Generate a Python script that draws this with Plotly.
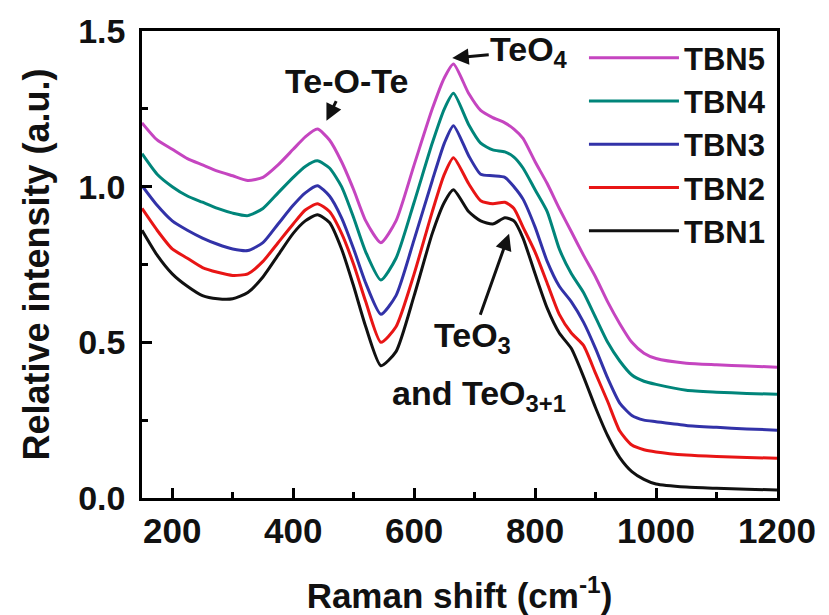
import plotly.graph_objects as go

raman_shift = [150, 175, 200, 225, 250, 275, 300, 325, 350, 375, 400, 420, 440, 460, 480, 500,
               520, 545, 570, 600, 630, 650, 665, 690, 710, 730, 750, 765, 780, 800, 820, 840,
               860, 880, 900, 920, 940, 960, 980, 1000, 1050, 1100, 1150, 1200]

tbn1 = [0.86, 0.78, 0.72, 0.68, 0.65, 0.64, 0.64, 0.66, 0.71, 0.78, 0.85, 0.89, 0.91, 0.885, 0.80, 0.68,
        0.55, 0.425, 0.47, 0.65, 0.85, 0.95, 0.99, 0.92, 0.89, 0.88, 0.90, 0.89, 0.835, 0.72, 0.61, 0.53,
        0.48, 0.39, 0.29, 0.20, 0.13, 0.085, 0.06, 0.045, 0.035, 0.031, 0.028, 0.026]
tbn2 = [0.93, 0.86, 0.80, 0.77, 0.74, 0.725, 0.715, 0.72, 0.76, 0.82, 0.88, 0.925, 0.945, 0.92, 0.85, 0.75,
        0.63, 0.50, 0.55, 0.72, 0.92, 1.04, 1.093, 1.01, 0.955, 0.945, 0.95, 0.93, 0.87, 0.79, 0.69, 0.59,
        0.53, 0.49, 0.40, 0.31, 0.215, 0.17, 0.155, 0.148, 0.138, 0.133, 0.13, 0.128]
tbn3 = [1.003, 0.94, 0.89, 0.86, 0.835, 0.815, 0.80, 0.795, 0.82, 0.88, 0.94, 0.98, 1.003, 0.97, 0.90, 0.80,
        0.69, 0.59, 0.65, 0.83, 1.02, 1.14, 1.196, 1.10, 1.04, 1.035, 1.03, 1.0, 0.96, 0.87, 0.76, 0.68,
        0.63, 0.565, 0.48, 0.385, 0.305, 0.265, 0.25, 0.245, 0.233, 0.227, 0.222, 0.218]
tbn4 = [1.106, 1.04, 1.0, 0.97, 0.95, 0.93, 0.915, 0.907, 0.93, 0.98, 1.03, 1.065, 1.083, 1.06, 1.0, 0.90,
        0.79, 0.70, 0.77, 0.95, 1.14, 1.25, 1.30, 1.20, 1.14, 1.118, 1.112, 1.095, 1.06, 0.99, 0.92, 0.80,
        0.72, 0.66, 0.58, 0.50, 0.44, 0.395, 0.375, 0.365, 0.346, 0.34, 0.336, 0.333]
tbn5 = [1.205, 1.15, 1.12, 1.09, 1.07, 1.05, 1.035, 1.02, 1.03, 1.07, 1.12, 1.16, 1.185, 1.15, 1.08, 0.99,
        0.89, 0.82, 0.89, 1.07, 1.25, 1.35, 1.394, 1.30, 1.245, 1.222, 1.205, 1.185, 1.155, 1.08, 1.01, 0.93,
        0.855, 0.78, 0.71, 0.63, 0.56, 0.50, 0.465, 0.448, 0.433, 0.428, 0.424, 0.42]

series_names = ["TBN1", "TBN2", "TBN3", "TBN4", "TBN5"]
series_values = [tbn1, tbn2, tbn3, tbn4, tbn5]
series_colors = ["#111111", "#E81515", "#3232A8", "#00857A", "#C545C0"]

x_ticks = [200, 400, 600, 800, 1000, 1200]
y_ticks = [0.0, 0.5, 1.0, 1.5]

FONT = "Arial, Liberation Sans, sans-serif"

fig = go.Figure()
for name, vals, col in zip(series_names, series_values, series_colors):
    fig.add_trace(go.Scatter(x=raman_shift, y=vals, mode="lines", name=name,
                             line=dict(color=col, width=3, shape="spline", smoothing=0.6)))

axis_common = dict(showline=True, linecolor="black", linewidth=2.5, mirror=True,
                   ticks="inside", ticklen=10, tickwidth=2.5, tickcolor="black",
                   showgrid=False, zeroline=False, automargin=False)

fig.update_xaxes(range=[150, 1200], tickvals=x_ticks, ticktext=[str(v) for v in x_ticks],
                 tickfont=dict(family=FONT, size=35, color="#111", weight="bold"),
                 minor=dict(ticks="inside", dtick=100, tick0=100, ticklen=6, tickwidth=2.5, tickcolor="black"),
                 title=dict(text="Raman shift (cm<sup>-1</sup>)", standoff=35,
                            font=dict(family=FONT, size=35, color="#111", weight="bold")),
                 **axis_common)
fig.update_yaxes(range=[0, 1.5], tickvals=y_ticks, ticktext=["%.1f" % v for v in y_ticks],
                 tickfont=dict(family=FONT, size=34, color="#111", weight="bold"),
                 ticklabelstandoff=7,
                 minor=dict(ticks="inside", dtick=0.25, tick0=0, ticklen=6, tickwidth=2.5, tickcolor="black"),
                 title=dict(text="Relative intensity (a.u.)", standoff=18,
                            font=dict(family=FONT, size=36, color="#111", weight="bold")),
                 **axis_common)

big_font = dict(family=FONT, size=34, color="#111", weight="bold")
mid_font = dict(family=FONT, size=34, color="#111", weight="bold")
arrow_style = dict(showarrow=True, arrowhead=2, arrowsize=1.1, arrowwidth=3, arrowcolor="#111",
                   xref="x", yref="y")

annotations = [
    dict(x=455, y=1.212, ax=20, ay=-40, text="Te-O-Te", font=big_font, **arrow_style),
    dict(x=663, y=1.413, ax=77, ay=-7, text="TeO<sub>4</sub>", font=big_font, **arrow_style),
    dict(x=757, y=0.849, ax=-37, ay=104, text="TeO<sub>3</sub>", font=mid_font, **arrow_style),
    dict(x=708, y=0.33, text="and TeO<sub>3+1</sub>", showarrow=False, font=mid_font, xref="x", yref="y"),
]

fig.update_layout(
    width=821, height=607,
    margin=dict(l=134, r=52, t=23, b=117),
    paper_bgcolor="white", plot_bgcolor="white",
    font=dict(family=FONT, color="#111"),
    showlegend=True,
    legend=dict(x=0.696, y=1.0, xanchor="left", yanchor="top", traceorder="reversed",
                font=dict(family=FONT, size=31, color="#111", weight="bold"),
                bgcolor="rgba(0,0,0,0)", itemwidth=90, tracegroupgap=0),
    annotations=annotations,
)

fig.write_html("out.html")
